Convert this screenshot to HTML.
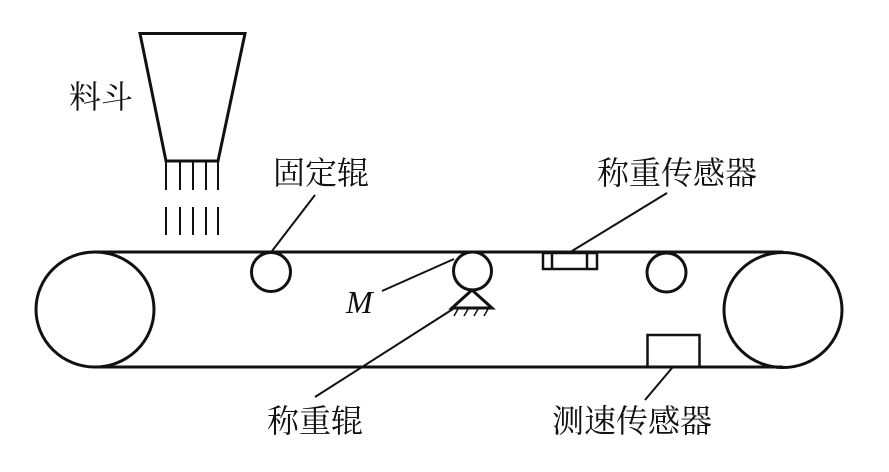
<!DOCTYPE html>
<html><head><meta charset="utf-8"><style>
html,body{margin:0;padding:0;background:#fff;}
svg{display:block;}
text{font-family:"Liberation Serif","Noto Serif CJK SC","Noto Serif CJK JP",serif;fill:#111;}
</style></head><body>
<svg width="889" height="472" viewBox="0 0 889 472" xmlns="http://www.w3.org/2000/svg">
<g fill="none" stroke="#111" stroke-width="3">
  <!-- hopper -->
  <polygon points="140,33.5 245,33.5 218,161 166,161" stroke-linejoin="miter"/>
  <!-- belt -->
  <line x1="95" y1="252" x2="783" y2="252"/>
  <line x1="95" y1="367" x2="783" y2="367"/>
  <ellipse cx="95" cy="309.5" rx="59" ry="57.5"/>
  <ellipse cx="783" cy="310" rx="59" ry="57.5"/>
  <!-- rollers -->
  <circle cx="271" cy="272" r="19.5"/>
  <circle cx="472.5" cy="271" r="19"/>
  <circle cx="666.5" cy="272.5" r="19.5"/>
  <!-- support triangle -->
  <polygon points="472,290 452,308 492,308"/>
  <!-- weighing sensor -->
  <rect x="543" y="253" width="54" height="16" stroke-width="2.5"/>
  <line x1="552" y1="253" x2="552" y2="269" stroke-width="2.5"/>
  <line x1="587" y1="253" x2="587" y2="269" stroke-width="2.5"/>
  <!-- speed sensor -->
  <rect x="647.5" y="335" width="52" height="32" stroke-width="2.5"/>
</g>
<g stroke="#111" stroke-width="2">
  <!-- material streams -->
  <line x1="166" y1="161" x2="166" y2="190"/>
  <line x1="180" y1="161" x2="180" y2="190"/>
  <line x1="193" y1="161" x2="193" y2="190"/>
  <line x1="206" y1="161" x2="206" y2="190"/>
  <line x1="218" y1="161" x2="218" y2="190"/>
  <line x1="166" y1="207" x2="166" y2="235"/>
  <line x1="180" y1="207" x2="180" y2="235"/>
  <line x1="193" y1="207" x2="193" y2="235"/>
  <line x1="206" y1="207" x2="206" y2="235"/>
  <line x1="218" y1="207" x2="218" y2="235"/>
  <!-- hatch -->
  <line x1="458" y1="309" x2="454" y2="316" stroke-width="1.5"/>
  <line x1="468" y1="309" x2="464" y2="316" stroke-width="1.5"/>
  <line x1="478" y1="309" x2="474" y2="316" stroke-width="1.5"/>
  <line x1="488" y1="309" x2="484" y2="316" stroke-width="1.5"/>
  <!-- leaders -->
  <line x1="272" y1="251" x2="315" y2="195"/>
  <line x1="382" y1="291" x2="454" y2="259"/>
  <line x1="315" y1="397" x2="453" y2="309"/>
  <line x1="572" y1="251" x2="667" y2="193"/>
  <line x1="672" y1="368" x2="645" y2="400"/>
</g>
<g font-size="32">
  <text x="69" y="108">料斗</text>
  <text x="273" y="184">固定辊</text>
  <text x="597" y="184">称重传感器</text>
  <text x="267" y="432">称重辊</text>
  <text x="552" y="432">测速传感器</text>
</g>
<text x="346" y="313" font-size="32" font-style="italic">M</text>
</svg>
</body></html>
